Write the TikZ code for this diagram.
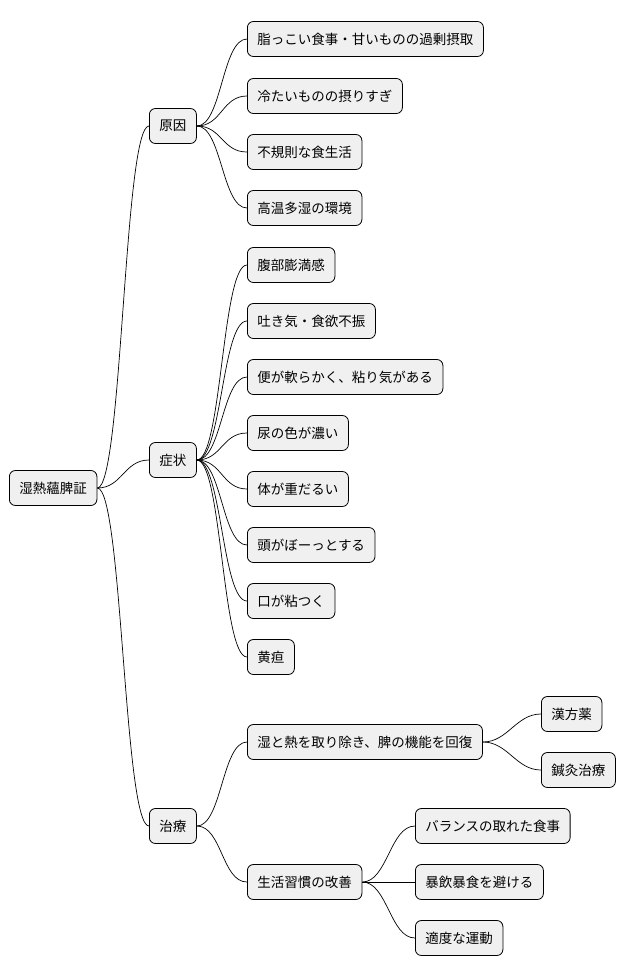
\documentclass[tikz,border=0pt]{standalone}
\usepackage{fontspec}
\setmainfont{Noto Sans CJK JP}
\begin{document}
\begin{tikzpicture}[x=1pt,y=-1pt,
  box/.style={draw=black,fill=black!6,rounded corners=6pt,line width=0.8pt,anchor=west,minimum height=35pt,inner xsep=10pt,inner ysep=0pt,font=\fontsize{13.5}{15}\selectfont},
  ln/.style={line width=0.7pt}]
\useasboundingbox (0,0) rectangle (628,978);
\node[box] (r) at (9,488) {湿熱蘊脾証};
\node[box] (a) at (149,126) {原因};
\node[box] (b) at (149,460) {症状};
\node[box] (c) at (149,826) {治療};
\node[box] (a1) at (247,39) {脂っこい食事・甘いものの過剰摂取};
\node[box] (a2) at (247,96) {冷たいものの摂りすぎ};
\node[box] (a3) at (247,152) {不規則な食生活};
\node[box] (a4) at (247,208) {高温多湿の環境};
\node[box] (b1) at (247,265) {腹部膨満感};
\node[box] (b2) at (247,321) {吐き気・食欲不振};
\node[box] (b3) at (247,377) {便が軟らかく、粘り気がある};
\node[box] (b4) at (247,433) {尿の色が濃い};
\node[box] (b5) at (247,489) {体が重だるい};
\node[box] (b6) at (247,545) {頭がぼーっとする};
\node[box] (b7) at (247,601) {口が粘つく};
\node[box] (b8) at (247,657) {黄疸};
\node[box] (c1) at (247,742) {湿と熱を取り除き、脾の機能を回復};
\node[box] (c2) at (247,882) {生活習慣の改善};
\node[box] (c11) at (541,714) {漢方薬};
\node[box] (c12) at (541,770) {鍼灸治療};
\node[box] (c21) at (415,826) {バランスの取れた食事};
\node[box] (c22) at (415,882) {暴飲暴食を避ける};
\node[box] (c23) at (415,938) {適度な運動};
\foreach \p/\k in {r/a,r/b,r/c,a/a1,a/a2,a/a3,a/a4,b/b1,b/b2,b/b3,b/b4,b/b5,b/b6,b/b7,b/b8,c/c1,c/c2,c1/c11,c1/c12,c2/c21,c2/c22,c2/c23}
  \draw[ln] (\p.east) .. controls ([xshift=25pt]\p.east) and ([xshift=-25pt]\k.west) .. (\k.west);
\end{tikzpicture}
\end{document}
